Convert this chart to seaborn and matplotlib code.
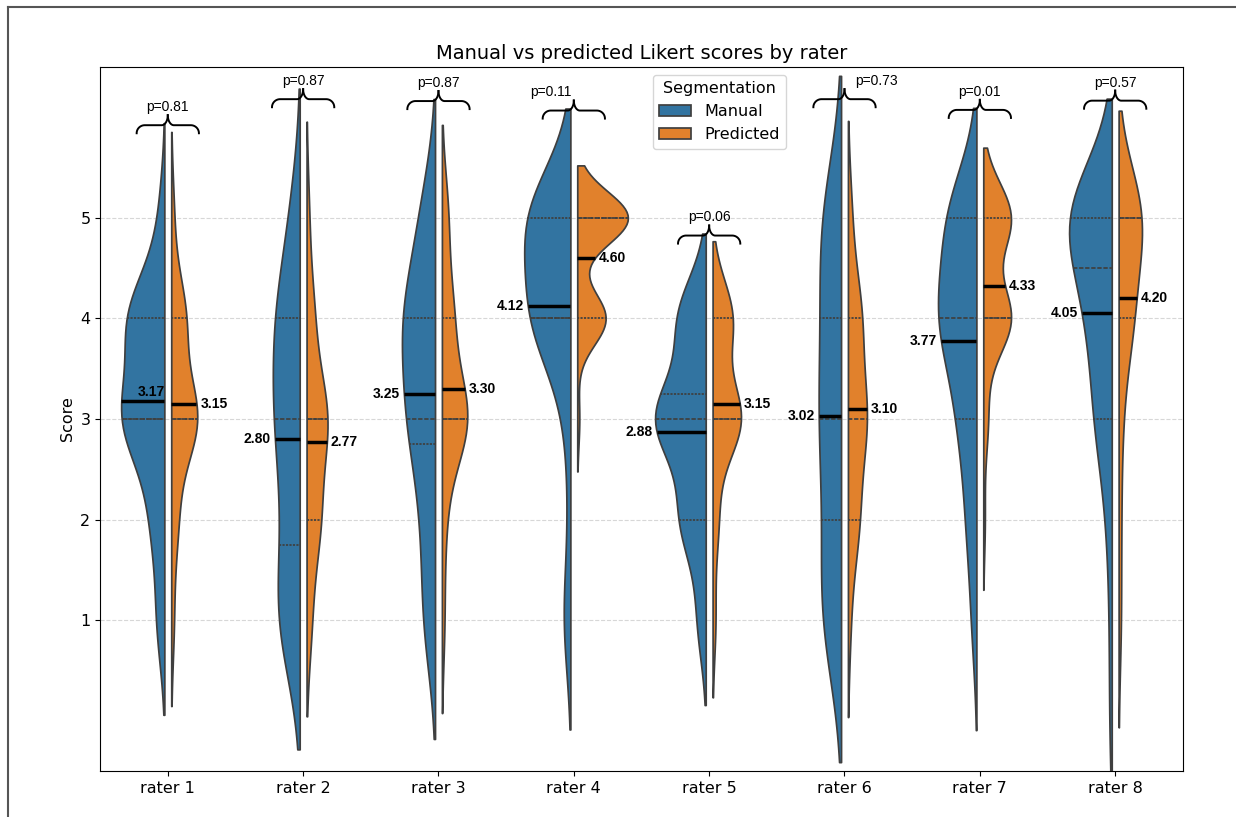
import numpy as np
import pandas as pd
import matplotlib.pyplot as plt
import seaborn as sns
from matplotlib.collections import PolyCollection
from matplotlib.lines import Line2D

raters = ['rater 1', 'rater 2', 'rater 3', 'rater 4', 'rater 5', 'rater 6', 'rater 7', 'rater 8']
scores = [0, 1, 2, 3, 4, 5]

# number of cases that got each score (0..5), one row per rater
manual_counts = [
    [0, 3, 5, 16, 14, 2],
    [0, 10, 6, 10, 10, 4],
    [0, 5, 5, 11, 13, 6],
    [0, 3, 1, 2, 16, 18],
    [0, 3, 9, 18, 10, 0],
    [0, 9, 6, 9, 7, 9],
    [0, 2, 4, 7, 15, 12],
    [1, 1, 2, 7, 9, 20],
]
predicted_counts = [
    [0, 2, 5, 20, 11, 2],
    [0, 4, 11, 17, 6, 2],
    [0, 2, 3, 21, 9, 5],
    [0, 0, 0, 1, 14, 25],
    [0, 2, 4, 20, 14, 0],
    [0, 2, 9, 15, 11, 3],
    [0, 0, 1, 3, 18, 18],
    [0, 2, 2, 3, 12, 21],
]
p_values = [0.81, 0.87, 0.87, 0.11, 0.06, 0.73, 0.01, 0.57]

rows = []
for seg, counts in [('Manual', manual_counts), ('Predicted', predicted_counts)]:
    for rater, c in zip(raters, counts):
        for s in np.repeat(scores, c):
            rows.append({'rater': rater, 'Segmentation': seg, 'Score': s})
df = pd.DataFrame(rows)

fig, ax = plt.subplots(figsize=(12.36, 8.17), dpi=100)
fig.subplots_adjust(left=0.081, right=0.957, bottom=0.0563, top=0.918)

sns.violinplot(data=df, x='rater', y='Score', hue='Segmentation', split=True,
               width=0.85, gap=0.12, inner='quart', ax=ax)

ax.set_ylim(-0.5, 6.5)
ax.set_yticks([1, 2, 3, 4, 5])
ax.set_xlabel('')
ax.set_ylabel('Score', fontsize=11.5)
ax.tick_params(labelsize=11.5)
ax.set_title('Manual vs predicted Likert scores by rater', fontsize=14)
ax.set_axisbelow(True)
ax.yaxis.grid(True, linestyle='--', alpha=0.5)

# mean lines + labels, measured on the drawn violin halves
tops = {}
for coll in list(ax.collections):
    if not isinstance(coll, PolyCollection):
        continue
    path = coll.get_paths()[0]
    v = path.vertices
    xmin, xmax = v[:, 0].min(), v[:, 0].max()
    i = int(round((xmin + xmax) / 2))
    manual = (xmin + xmax) / 2 < i
    tops[i] = max(tops.get(i, -np.inf), v[:, 1].max())

    vals = df[(df.rater == raters[i]) &
              (df.Segmentation == ('Manual' if manual else 'Predicted'))].Score
    m = vals.mean()
    xs = np.linspace(xmin, xmax, 600)
    inside = path.contains_points(np.column_stack([xs, np.full_like(xs, m)]))
    if manual:
        outer, inner = xs[inside].min(), xmax
    else:
        outer, inner = xs[inside].max(), xmin
    ax.plot([outer, inner], [m, m], color='black', lw=2.5, zorder=4,
            solid_capstyle='butt')
    lab = f'{m:.2f}'
    kw = dict(fontsize=10, fontweight='bold', family='Liberation Sans', zorder=5)
    if manual:
        if outer - 0.3 < -0.5:
            ax.text((outer + inner) / 2 + 0.06, m + 0.02, lab, ha='center', va='bottom', **kw)
        else:
            ax.text(outer - 0.03, m, lab, ha='right', va='center', **kw)
    else:
        ax.text(outer + 0.03, m, lab, ha='left', va='center', **kw)


def brace(ax, xc, y0, hw=0.23, a=0.08, h=0.18, r1=0.06, r2=0.045):
    t1 = np.linspace(np.pi, np.pi / 2, 30)
    t2 = np.linspace(1.5 * np.pi, 2 * np.pi, 30)
    lx = np.concatenate([xc - hw + r1 + r1 * np.cos(t1), xc - r2 + r2 * np.cos(t2)])
    ly = np.concatenate([y0 + a * np.sin(t1), y0 + h + (h - a) * np.sin(t2)])
    ax.plot(lx, ly, color='black', lw=1.4, zorder=5, clip_on=False)
    ax.plot(2 * xc - lx, ly, color='black', lw=1.4, zorder=5, clip_on=False)
    return y0 + h


text_nudge = {3: -0.17, 5: 0.24}
for i, p in enumerate(p_values):
    y0 = min(tops[i], 6.2) - 0.1
    tip = brace(ax, i, y0)
    ax.text(i + text_nudge.get(i, 0), tip + 0.01, f'p={p:.2f}', ha='center', va='bottom',
            fontsize=10, family='Liberation Sans', zorder=6)

ax.set_xlim(-0.5, len(raters) - 0.5)

sns.move_legend(ax, 'upper center', bbox_to_anchor=(0.572, 1.0), title='Segmentation',
                fontsize=11.5, title_fontsize=11.5)

# frame edge of the original screenshot
fig.add_artist(Line2D([0.0065, 0.0065], [0, 0.9914], color='#555555', lw=1.5))
fig.add_artist(Line2D([0.0065, 1], [0.9914, 0.9914], color='#555555', lw=1.5))

fig.savefig('out.png', dpi=100)
